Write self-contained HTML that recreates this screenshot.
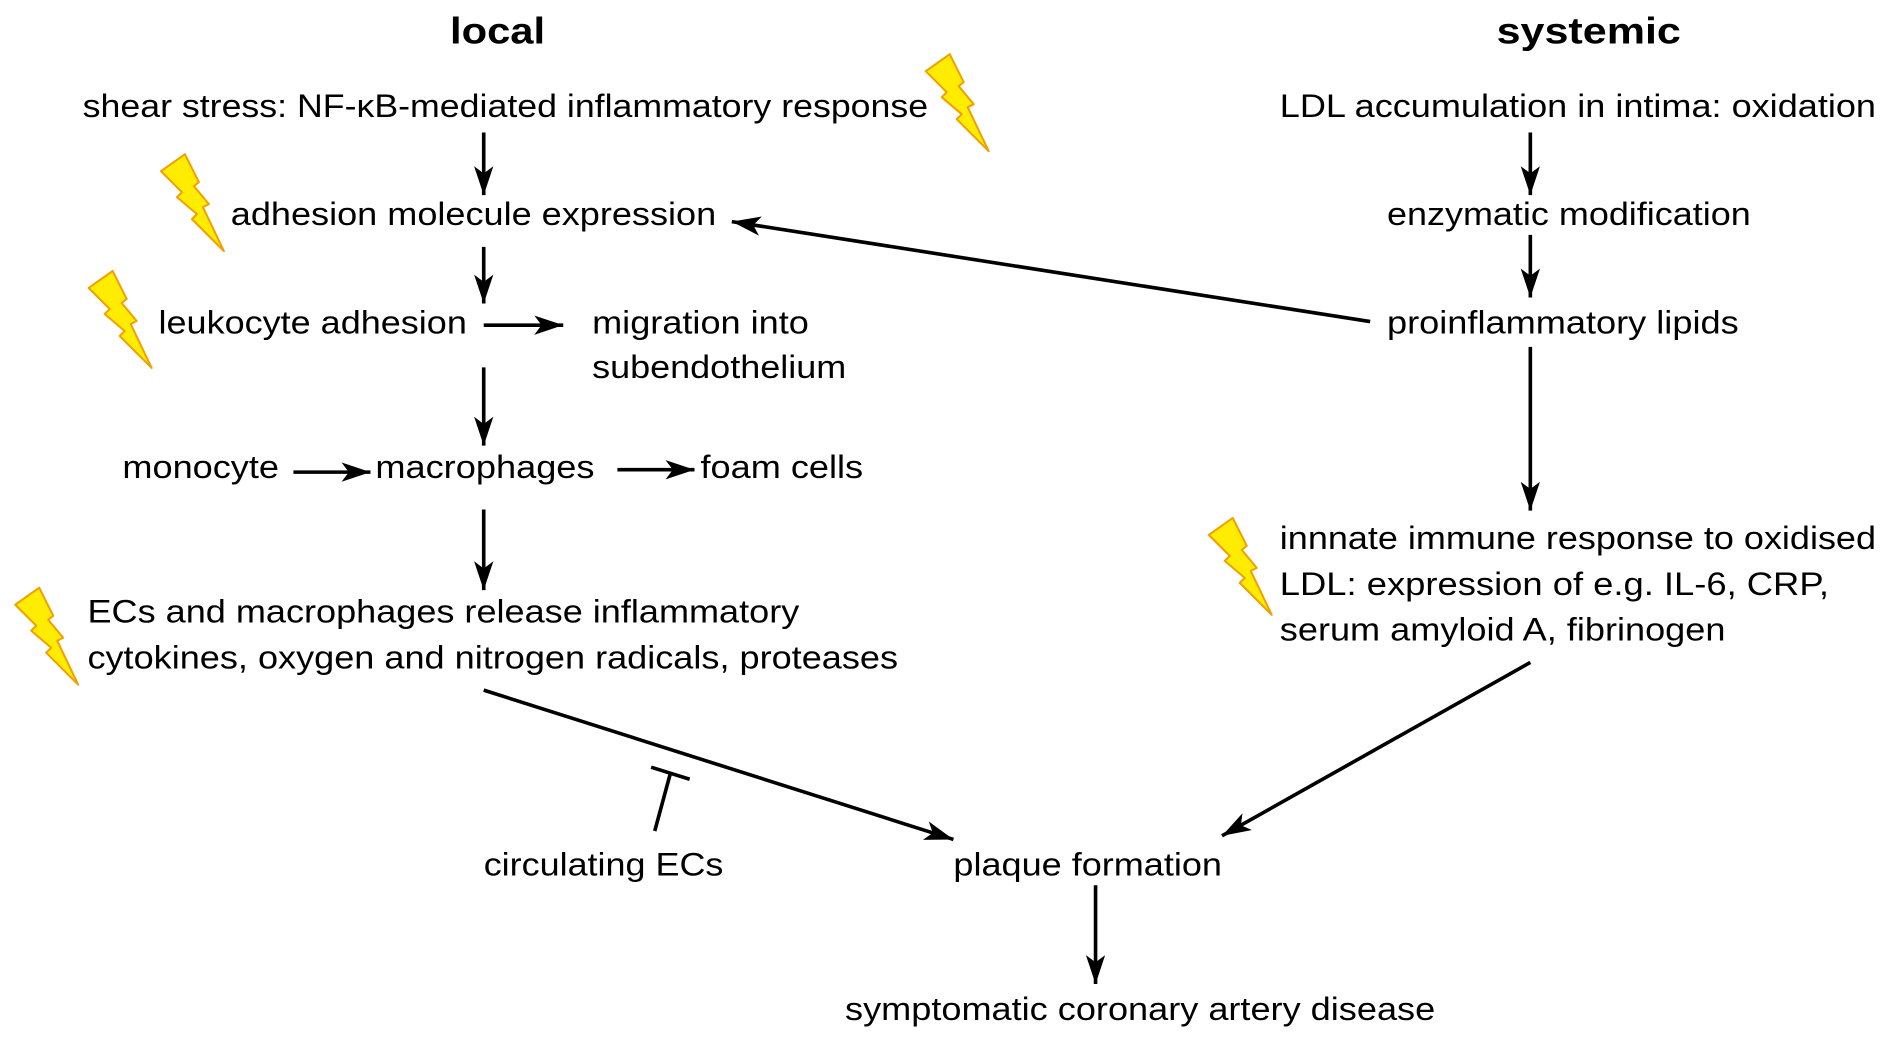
<!DOCTYPE html>
<html><head><meta charset="utf-8"><style>
html,body{margin:0;padding:0;background:#fff;}
svg{display:block;}
text{font-family:"Liberation Sans",Arial,sans-serif;font-size:27px;fill:#000;}
.h{font-weight:bold;font-size:31px;}
</style></head><body>
<svg width="1890" height="1043" viewBox="0 0 1568 866" xmlns="http://www.w3.org/2000/svg">
<defs>
<marker id="a" markerUnits="userSpaceOnUse" markerWidth="30" markerHeight="20" refX="24" refY="8" orient="auto">
<path d="M0,0 L24,8 L0,16 L6,8 Z" fill="#000"/>
</marker>
<g id="b"><polygon transform="scale(0.83)" points="0,17 24,0 38,28 33,32 48,50 42,53 63,97 31,65 36,60 16,43 21,38" fill="#ffec00" stroke="#f0a000" stroke-width="2" stroke-linejoin="round"/></g>
</defs>
<g lengthAdjust="spacingAndGlyphs">
<text class="h" x="373" y="36" textLength="79" lengthAdjust="spacingAndGlyphs">local</text>
<text class="h" x="1242" y="36" textLength="153" lengthAdjust="spacingAndGlyphs">systemic</text>
<text x="68" y="97" textLength="702" lengthAdjust="spacingAndGlyphs">shear stress: NF-κB-mediated inflammatory response</text>
<text x="1062" y="97" textLength="495" lengthAdjust="spacingAndGlyphs">LDL accumulation in intima: oxidation</text>
<text x="191" y="187" textLength="403" lengthAdjust="spacingAndGlyphs">adhesion molecule expression</text>
<text x="1151" y="187" textLength="302" lengthAdjust="spacingAndGlyphs">enzymatic modification</text>
<text x="131" y="277" textLength="256" lengthAdjust="spacingAndGlyphs">leukocyte adhesion</text>
<text x="491" y="277" textLength="180" lengthAdjust="spacingAndGlyphs">migration into</text>
<text x="491" y="314" textLength="211" lengthAdjust="spacingAndGlyphs">subendothelium</text>
<text x="1151" y="277" textLength="292" lengthAdjust="spacingAndGlyphs">proinflammatory lipids</text>
<text x="101" y="397" textLength="130" lengthAdjust="spacingAndGlyphs">monocyte</text>
<text x="311" y="397" textLength="182" lengthAdjust="spacingAndGlyphs">macrophages</text>
<text x="581" y="397" textLength="135" lengthAdjust="spacingAndGlyphs">foam cells</text>
<text x="1062" y="456" textLength="495" lengthAdjust="spacingAndGlyphs">innnate immune response to oxidised</text>
<text x="1062" y="494" textLength="456" lengthAdjust="spacingAndGlyphs">LDL: expression of e.g. IL-6, CRP,</text>
<text x="1062" y="532" textLength="370" lengthAdjust="spacingAndGlyphs">serum amyloid A, fibrinogen</text>
<text x="72" y="517" textLength="591" lengthAdjust="spacingAndGlyphs">ECs and macrophages release inflammatory</text>
<text x="72" y="555" textLength="673" lengthAdjust="spacingAndGlyphs">cytokines, oxygen and nitrogen radicals, proteases</text>
<text x="401" y="727" textLength="199" lengthAdjust="spacingAndGlyphs">circulating ECs</text>
<text x="791" y="727" textLength="223" lengthAdjust="spacingAndGlyphs">plaque formation</text>
<text x="701" y="847" textLength="490" lengthAdjust="spacingAndGlyphs">symptomatic coronary artery disease</text>
</g>
<use href="#b" x="768" y="45"/>
<use href="#b" x="133" y="128"/>
<use href="#b" x="73" y="225"/>
<use href="#b" x="12" y="488"/>
<use href="#b" x="1003" y="430"/>
<g stroke="#000" stroke-width="3" fill="none" marker-end="url(#a)">
<line x1="401" y1="110" x2="401" y2="162"/>
<line x1="401" y1="205" x2="401" y2="252"/>
<line x1="401" y1="270" x2="467" y2="270"/>
<line x1="401" y1="305" x2="401" y2="370"/>
<line x1="243" y1="392" x2="307" y2="392"/>
<line x1="512" y1="390" x2="576" y2="390"/>
<line x1="401" y1="423" x2="401" y2="490"/>
<line x1="1270" y1="110" x2="1270" y2="162"/>
<line x1="1270" y1="195" x2="1270" y2="247"/>
<line x1="1137" y1="267" x2="607" y2="184"/>
<line x1="1270" y1="288" x2="1270" y2="424"/>
<line x1="401" y1="573" x2="791" y2="697"/>
<line x1="1270" y1="550" x2="1014" y2="694"/>
<line x1="909" y1="735" x2="909" y2="817"/>
</g>
<g stroke="#000" stroke-width="3">
<line x1="543" y1="690" x2="556" y2="642"/>
<line x1="540" y1="637" x2="572" y2="647"/>
</g>
</svg>
</body></html>
